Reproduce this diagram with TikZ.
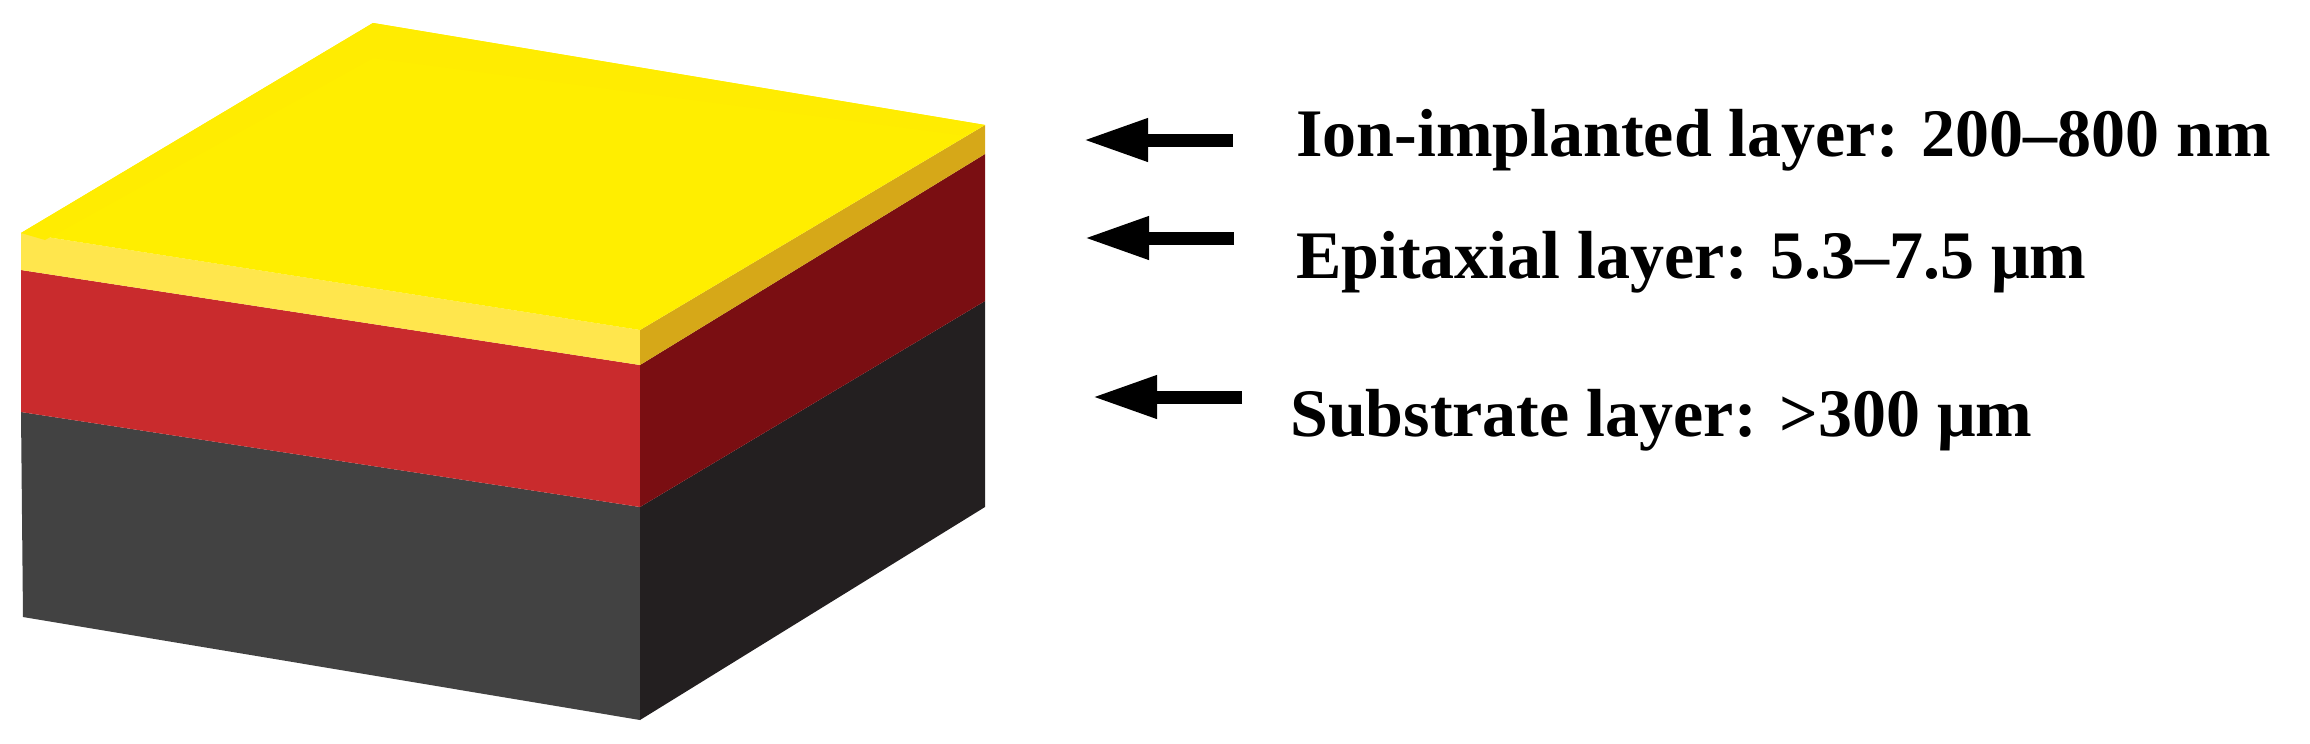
\documentclass[tikz,border=0pt]{standalone}
\usepackage{fontspec}
\setmainfont{Liberation Serif}
\usetikzlibrary{arrows.meta}
\definecolor{ytop}{HTML}{FFEE00}
\definecolor{yleft}{HTML}{FFE64D}
\definecolor{yright}{HTML}{D6A818}
\definecolor{rleft}{HTML}{C92B2D}
\definecolor{rright}{HTML}{7A0E12}
\definecolor{kleft}{HTML}{424242}
\definecolor{kright}{HTML}{231F20}
\tikzset{lbl/.style={anchor=west,font=\fontsize{68}{68}\selectfont\bfseries,inner sep=0},
 arr/.style={line width=13pt,-{Triangle[length=65pt,width=40pt]}}}
\begin{document}
\begin{tikzpicture}[x=1pt,y=-1pt]
\useasboundingbox (0,0) rectangle (2310,744);
% corners
\coordinate (L) at (21,233); \coordinate (B) at (373,23);
\coordinate (F) at (640,330); \coordinate (R) at (985,125);
% black
\fill[kleft] (21,412) -- (640,507) -- (640,720) -- (23,617) -- cycle;
\fill[kright] (640,507) -- (985,301) -- (985,507) -- (640,720) -- cycle;
% red
\fill[rleft] (21,270) -- (640,365) -- (640,507) -- (21,412) -- cycle;
\fill[rright] (640,365) -- (985,154) -- (985,301) -- (640,507) -- cycle;
% yellow sides
\fill[yleft] (L) -- (F) -- (640,365) -- (21,270) -- cycle;
\fill[yright] (F) -- (R) -- (985,154) -- (640,365) -- cycle;
% top
\fill[ytop] (L) -- (B) -- (R) -- (F) -- cycle;
\fill[yellow!60!ytop] (L) -- (B) -- (R) -- (960,135) -- (373,58) -- (45,240) -- cycle;
% labels
\node[lbl] (t1) at (1296,140) {Ion-implanted layer: 200–800 nm};
\node[lbl] (t2) at (1296,262) {Epitaxial layer: 5.3–7.5 μm};
\node[lbl] (t3) at (1290,420) {Substrate layer: >300 μm};
\coordinate (a1s) at (1233,140); \coordinate (a1e) at (1083,140);
\coordinate (a2s) at (1234,238); \coordinate (a2e) at (1084,238);
\coordinate (a3s) at (1242,397); \coordinate (a3e) at (1092,397);
\draw[arr] (a1s) -- (a1e);
\draw[arr] (a2s) -- (a2e);
\draw[arr] (a3s) -- (a3e);
\end{tikzpicture}
\end{document}
